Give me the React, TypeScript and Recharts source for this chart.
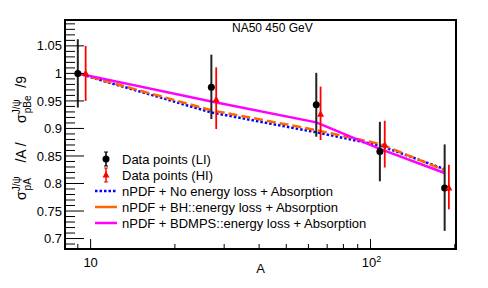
import {
  ComposedChart,
  Line,
  Scatter,
  ErrorBar,
  XAxis,
  YAxis,
  ReferenceArea,
} from "recharts";

// mass numbers of the targets (Be, Al, Cu, Ag, W)
const massA = [9, 27, 64, 108, 184];
// HI points are drawn slightly shifted to the right
const massHI = [9.6, 28.1, 66.3, 112.4, 190.5];

const liVal = [1.0, 0.975, 0.943, 0.858, 0.792];
const liLow = [0.938, 0.917, 0.885, 0.804, 0.714];
const liHigh = [1.062, 1.034, 1.001, 0.912, 0.871];

const hiVal = [1.0, 0.952, 0.926, 0.87, 0.792];
const hiLow = [0.95, 0.899, 0.879, 0.829, 0.753];
const hiHigh = [1.05, 1.011, 0.976, 0.914, 0.834];

const noLoss = [1.0, 0.929, 0.893, 0.869, 0.826];
const bhLoss = [1.0, 0.933, 0.897, 0.872, 0.824];
const bdmpsLoss = [1.0, 0.949, 0.911, 0.863, 0.819];

const xTicks = [9, 10, 20, 30, 40, 50, 60, 70, 80, 90, 100, 200];
const yTicks = [
  0.69, 0.7, 0.71, 0.72, 0.73, 0.74, 0.75, 0.76, 0.77, 0.78, 0.79, 0.8, 0.81,
  0.82, 0.83, 0.84, 0.85, 0.86, 0.87, 0.88, 0.89, 0.9, 0.91, 0.92, 0.93, 0.94,
  0.95, 0.96, 0.97, 0.98, 0.99, 1.0, 1.01, 1.02, 1.03, 1.04, 1.05, 1.06, 1.07,
  1.08, 1.09,
];

const X_DOMAIN: [number, number] = [8.1, 202];
const Y_DOMAIN: [number, number] = [0.681, 1.097];

const FONT = "'Liberation Sans', Arial, Helvetica, sans-serif";

const liData = massA.map((x, i) => ({
  x,
  y: liVal[i],
  err: [liVal[i] - liLow[i], liHigh[i] - liVal[i]],
}));
const hiData = massHI.map((x, i) => ({
  x,
  y: hiVal[i],
  err: [hiVal[i] - hiLow[i], hiHigh[i] - hiVal[i]],
}));
const curve = (vals: number[]) => massA.map((x, i) => ({ x, y: vals[i] }));

const isMajorY = (v: number) => Math.abs(v * 20 - Math.round(v * 20)) < 1e-6;

const YTick = (props: any) => {
  const { x, y, payload } = props;
  const v = payload.value;
  const major = isMajorY(v);
  return (
    <g>
      <line x1={x} x2={x + (major ? 19 : 10)} y1={y} y2={y} stroke="#000" />
      {major && (
        <text x={x - 3} y={y + 4.6} textAnchor="end" fontSize={13} fontFamily={FONT} fill="#000">
          {String(Math.round(v * 100) / 100)}
        </text>
      )}
    </g>
  );
};

const XTick = (props: any) => {
  const { x, y, payload } = props;
  const v = payload.value;
  const major = v === 10 || v === 100;
  return (
    <g>
      <line x1={x} x2={x} y1={y} y2={y - (major ? 10 : 5)} stroke="#000" />
      {v === 10 && (
        <text x={x} y={y + 18} textAnchor="middle" fontSize={13} fontFamily={FONT} fill="#000">
          10
        </text>
      )}
      {v === 100 && (
        <text x={x + 1} y={y + 18} textAnchor="middle" fontSize={13} fontFamily={FONT} fill="#000">
          10
          <tspan dy={-5} fontSize={9}>
            2
          </tspan>
        </text>
      )}
    </g>
  );
};

const Dot = (props: any) => <circle cx={props.cx} cy={props.cy} r={3.5} fill="#000" />;
const Tri = (props: any) => {
  const { cx, cy } = props;
  return <path d={`M${cx},${cy - 4} L${cx + 3.5},${cy + 2.5} L${cx - 3.5},${cy + 2.5} Z`} fill="#ff0000" />;
};

function Overlay() {
  const rows = [159, 175, 191, 207, 223];
  return (
    <svg
      width={488}
      height={288}
      style={{ position: "absolute", left: 0, top: 0, pointerEvents: "none" }}
      fontFamily={FONT}
    >
      <text x={232} y={31.5} fontSize={12} fill="#000">
        NA50 450 GeV
      </text>
      <text x={260.5} y={272.5} fontSize={13} textAnchor="middle" fill="#000">
        A
      </text>
      {/* y axis title */}
      <text transform="translate(26,138) rotate(-90)" textAnchor="middle" fontSize={14} fill="#000">
        σ
        <tspan fontSize={10} dy={-6}>J/ψ</tspan>
        <tspan fontSize={10} dx={-14} dy={11}>pA</tspan>
        <tspan fontSize={14} dy={-5} xmlSpace="preserve">{"    /A /     σ"}</tspan>
        <tspan fontSize={10} dy={-6}>J/ψ</tspan>
        <tspan fontSize={10} dx={-14} dy={11}>pBe</tspan>
        <tspan fontSize={14} dy={-5} xmlSpace="preserve">{"  /9"}</tspan>
      </text>
      {/* legend */}
      <g>
        <line x1={106} x2={106} y1={rows[0] - 7} y2={rows[0] + 7} stroke="#000" strokeWidth={1.5} />
        <line x1={104} x2={108} y1={rows[0] - 7} y2={rows[0] - 7} stroke="#000" />
        <line x1={104} x2={108} y1={rows[0] + 7} y2={rows[0] + 7} stroke="#000" />
        <circle cx={106} cy={rows[0]} r={3.5} fill="#000" />
        <line x1={106} x2={106} y1={rows[1] - 7} y2={rows[1] + 7} stroke="#ff0000" strokeWidth={1.5} />
        <line x1={104} x2={108} y1={rows[1] - 7} y2={rows[1] - 7} stroke="#ff0000" />
        <line x1={104} x2={108} y1={rows[1] + 7} y2={rows[1] + 7} stroke="#ff0000" />
        <path d={`M106,${rows[1] - 4} L109.5,${rows[1] + 2.5} L102.5,${rows[1] + 2.5} Z`} fill="#ff0000" />
        <line x1={95} x2={117} y1={rows[2]} y2={rows[2]} stroke="#0000ff" strokeWidth={2.5} strokeDasharray="2.5 2" />
        <line x1={95} x2={117} y1={rows[3]} y2={rows[3]} stroke="#ff6600" strokeWidth={2.5} />
        <line x1={95} x2={117} y1={rows[4]} y2={rows[4]} stroke="#ff00ff" strokeWidth={2.5} />
        {[
          "Data points (LI)",
          "Data points (HI)",
          "nPDF + No energy loss + Absorption",
          "nPDF + BH::energy loss + Absorption",
          "nPDF + BDMPS::energy loss + Absorption",
        ].map((t, i) => (
          <text key={t} x={122} y={rows[i] + 4.6} fontSize={13} fill="#000">
            {t}
          </text>
        ))}
      </g>
    </svg>
  );
}

export default function App() {
  return (
    <div style={{ position: "absolute", left: 0, top: 0, width: 488, height: 288, background: "#fff" }}>
      <ComposedChart width={488} height={288} margin={{ top: 20, right: 32, left: 0, bottom: 0 }}>
        <XAxis
          dataKey="x"
          type="number"
          scale="log"
          domain={X_DOMAIN}
          allowDataOverflow
          ticks={xTicks}
          interval={0}
          tickSize={0}
          tickMargin={0}
          axisLine={false}
          tick={<XTick />}
          height={39}
        />
        <YAxis
          dataKey="y"
          type="number"
          domain={Y_DOMAIN}
          allowDataOverflow
          ticks={yTicks}
          interval={0}
          tickSize={0}
          tickMargin={0}
          axisLine={false}
          tick={<YTick />}
          width={65}
        />
        <Line data={curve(noLoss)} dataKey="y" type="linear" stroke="#0000ff" strokeWidth={2.5} strokeDasharray="2.5 2" dot={false} isAnimationActive={false} />
        <Line data={curve(bhLoss)} dataKey="y" type="linear" stroke="#ff6600" strokeWidth={2.5} strokeDasharray="9 4" dot={false} isAnimationActive={false} />
        <Line data={curve(bdmpsLoss)} dataKey="y" type="linear" stroke="#ff00ff" strokeWidth={2.5} dot={false} isAnimationActive={false} />
        <Scatter data={liData} dataKey="y" shape={<Dot />} isAnimationActive={false}>
          <ErrorBar dataKey="err" direction="y" width={0} stroke="#222" strokeWidth={2} />
        </Scatter>
        <Scatter data={hiData} dataKey="y" shape={<Tri />} isAnimationActive={false}>
          <ErrorBar dataKey="err" direction="y" width={0} stroke="#ff0000" strokeWidth={1.8} />
        </Scatter>
        <ReferenceArea
          x1={X_DOMAIN[0]}
          x2={X_DOMAIN[1]}
          y1={Y_DOMAIN[0]}
          y2={Y_DOMAIN[1]}
          fill="none"
          stroke="#000"
          strokeWidth={2}
          ifOverflow="visible"
        />
      </ComposedChart>
      <Overlay />
    </div>
  );
}
